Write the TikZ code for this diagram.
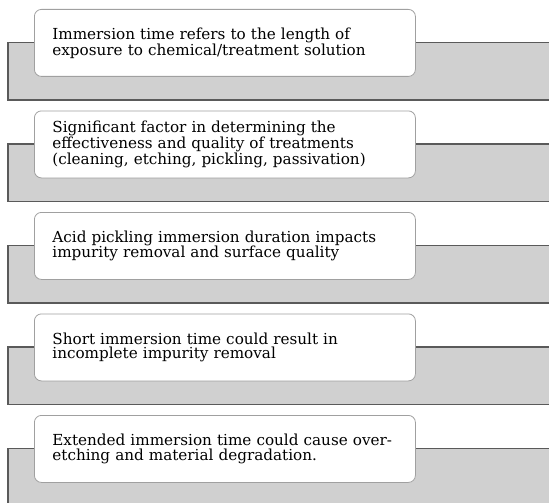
\documentclass[tikz,border=0pt]{standalone}
\usepackage{fontspec}
\setmainfont{DejaVu Serif}

\definecolor{barfill}{HTML}{D0D0D0}
\definecolor{barline}{HTML}{5A5A5A}
\definecolor{noteline}{HTML}{A0A0A0}

\tikzset{
    bar/.style={fill=barfill, draw=barline, line width=1.2pt},
    note/.style={draw=noteline, fill=white, rounded corners=7pt, line width=0.8pt,
        anchor=north west, minimum height=67pt, text width=345pt, inner xsep=18pt,
        align=left, font=\fontsize{15.2}{14.5}\selectfont}
}

\begin{document}
\begin{tikzpicture}[x=1pt, y=-1pt]
    \clip (0,0) rectangle (549,503);

    % Draw
    \foreach \i/\txt in {0/{Immersion time refers to the length of\\exposure to chemical/treatment solution},
                         1/{Significant factor in determining the\\effectiveness and quality of treatments\\(cleaning, etching, pickling, passivation)},
                         2/{Acid pickling immersion duration impacts\\impurity removal and surface quality},
                         3/{Short immersion time could result in\\incomplete impurity removal},
                         4/{Extended immersion time could cause over-\\etching and material degradation.}}
    {
        \pgfmathsetmacro\rowtop{9+101.5*\i}
        \coordinate (barA\i) at (8, \rowtop+33.5);
        \coordinate (barB\i) at (560, \rowtop+91);
        \draw[bar] (barA\i) rectangle (barB\i);
        \node[note] (note\i) at (34, \rowtop) {\txt};
    }
\end{tikzpicture}
\end{document}
